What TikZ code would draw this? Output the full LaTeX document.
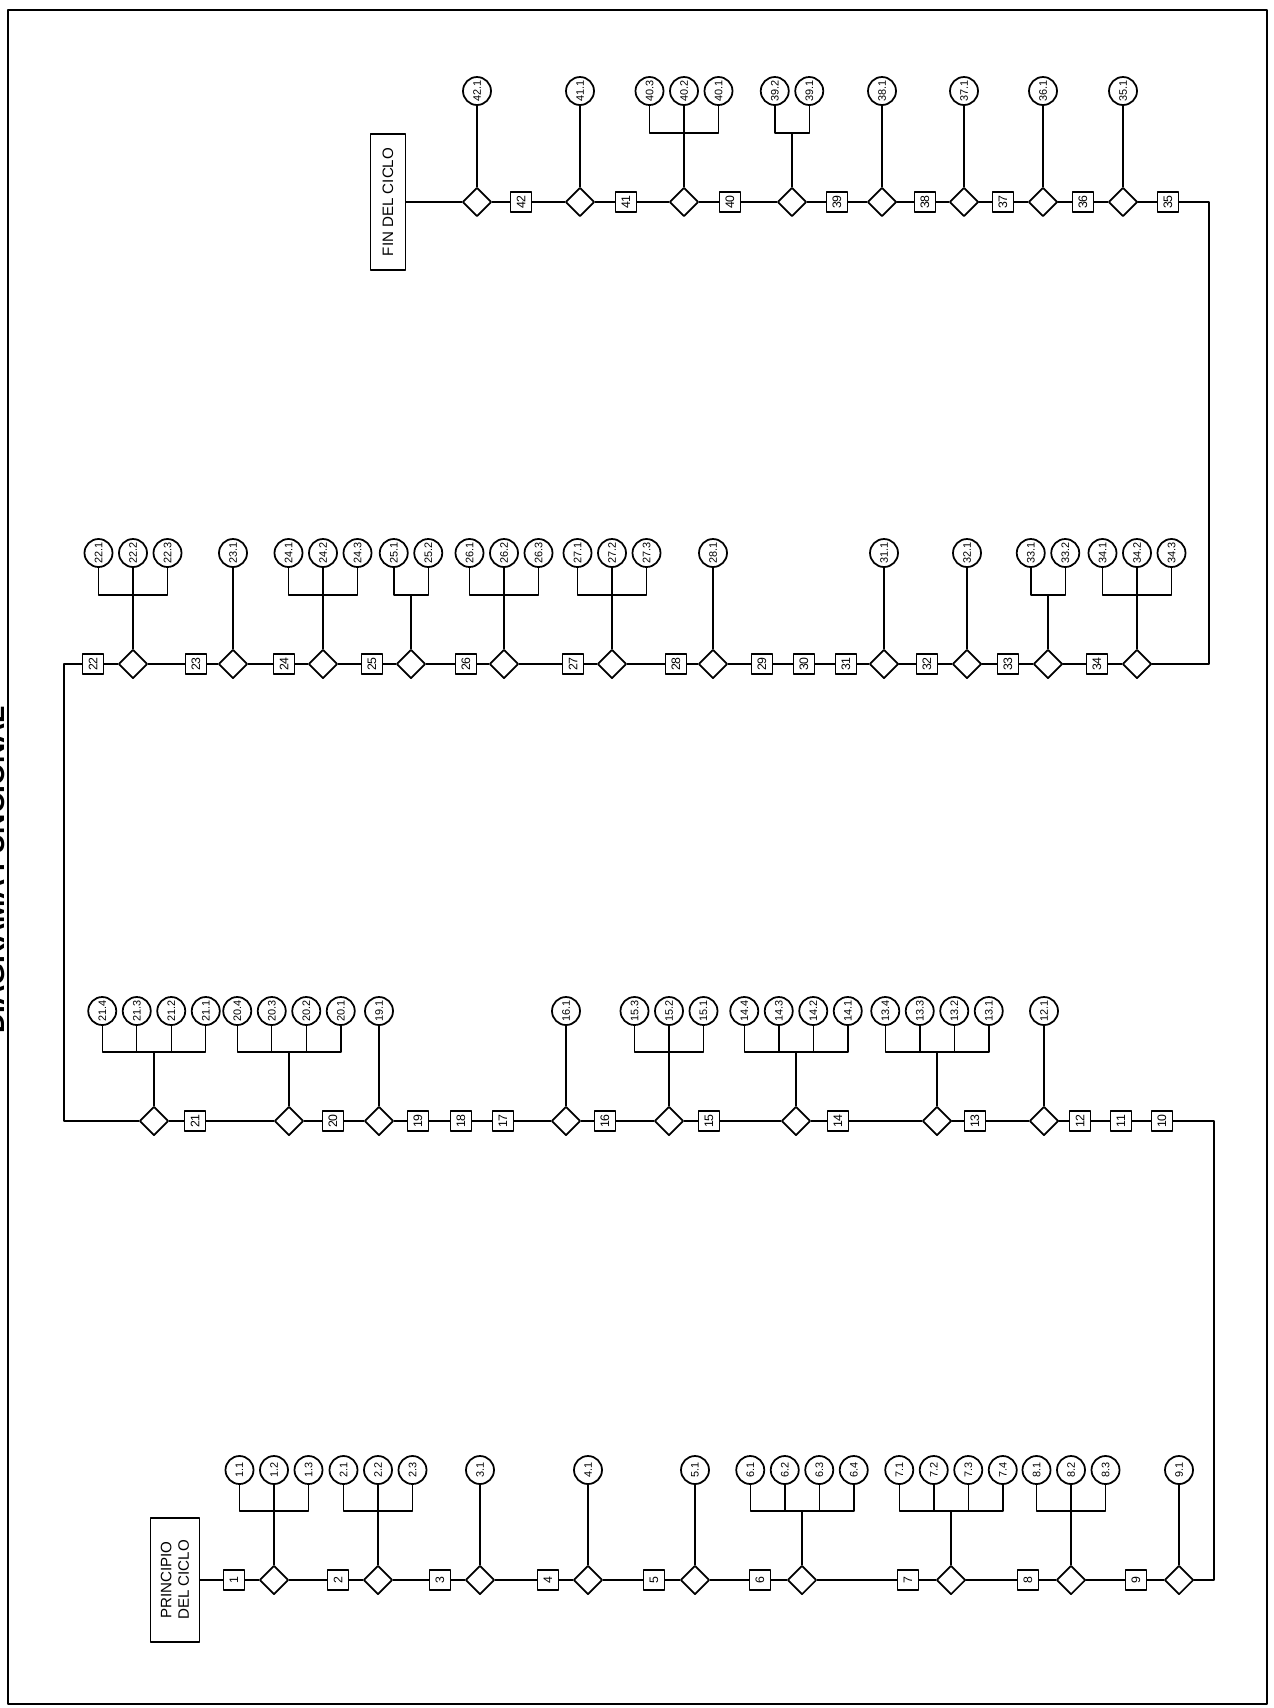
\documentclass[tikz,border=0pt]{standalone}
\usepackage{fontspec}
\setmainfont{Liberation Sans}
\usetikzlibrary{shapes.geometric}

\begin{document}
\begin{tikzpicture}[x=0.02cm, y=-0.02cm, line cap=round, line join=round]

% ------------------------------------------------
% Styles
% ------------------------------------------------
\tikzset{
    frame/.style={line width=1.6pt, black},
    link/.style={line width=0.85pt, black},
    num/.style={draw, line width=0.95pt, rotate=90, minimum width=0.40cm,
        minimum height=0.42cm, inner sep=0pt, font=\fontsize{7}{8}\selectfont},
    dec/.style={draw, diamond, line width=0.95pt, minimum width=0.58cm,
        minimum height=0.58cm, inner sep=0pt},
    sub/.style={draw, circle, line width=1pt, minimum size=0.56cm,
        inner sep=0pt, rotate=90, font=\fontsize{6.2}{7}\selectfont},
    term/.style={draw, line width=0.95pt, rotate=90, align=center,
        inner sep=0pt, font=\fontsize{8.6}{10}\selectfont},
    heading/.style={rotate=90, anchor=base, font=\bfseries\fontsize{16}{18}\selectfont},
}

\useasboundingbox (0,0) rectangle (1274,1708);

% ------------------------------------------------
% Frame and title
% ------------------------------------------------
\draw[frame] (8,10) rectangle (1267,1704);
\node[heading] (title) at (5,870) {DIAGRAMA FUNCIONAL};

% ------------------------------------------------
% Start / end of cycle
% ------------------------------------------------
\node[term, minimum width=2.48cm, minimum height=0.98cm] (start) at (175,1580)
    {PRINCIPIO\\DEL CICLO};
\node[term, minimum width=2.72cm, minimum height=0.70cm] (fin) at (388,202)
    {FIN DEL CICLO};

% ------------------------------------------------
% Row 1 (1 -- 9)
% ------------------------------------------------
\foreach \k/\x in {1/234,2/338,3/440,4/548,5/654,6/760,7/908,8/1028,9/1136}
    \node[num] (b\k) at (\x,1580) {\k};

\foreach \k/\x/\n in {1/274/3,2/378/3,3/480/1,4/588/1,5/695/1,6/802/4,7/951/4,8/1071/3,9/1179/1}{
    \node[dec] (d\k) at (\x,1580) {};
    \coordinate (j\k) at (\x,1511);
    \foreach \i in {1,...,\n}{
        \node[sub] (c\k-\i) at ({\x+(\i-(\n+1)/2)*34.5},1470) {\k.\i};
        \draw[link] (c\k-\i) -- (c\k-\i |- j\k) -- (j\k);
    }
    \draw[link] (d\k) -- (j\k);
}

% ------------------------------------------------
% Row 2 (10 -- 21), read right to left
% ------------------------------------------------
\foreach \k/\x in {10/1162,11/1121,12/1080,13/975,14/838,15/709,16/605,17/503,18/461,19/418,20/333,21/195}
    \node[num] (b\k) at (\x,1121) {\k};

\foreach \k/\x/\n in {12/1044/1,13/937/4,14/796/4,15/669/3,16/566/1,19/379/1,20/289/4,21/154/4}{
    \node[dec] (d\k) at (\x,1121) {};
    \coordinate (j\k) at (\x,1052);
    \foreach \i in {1,...,\n}{
        \node[sub] (c\k-\i) at ({\x-(\i-(\n+1)/2)*34.5},1011) {\k.\i};
        \draw[link] (c\k-\i) -- (c\k-\i |- j\k) -- (j\k);
    }
    \draw[link] (d\k) -- (j\k);
}

% ------------------------------------------------
% Row 3 (22 -- 34)
% ------------------------------------------------
\foreach \k/\x in {22/93,23/196,24/284,25/372,26/466,27/573,28/676,29/762,30/804,31/846,32/927,33/1008,34/1097}
    \node[num] (b\k) at (\x,664) {\k};

\foreach \k/\x/\n in {22/133/3,23/233/1,24/323/3,25/411/2,26/504/3,27/612/3,28/713/1,31/884/1,32/967/1,33/1048/2,34/1137/3}{
    \node[dec] (d\k) at (\x,664) {};
    \coordinate (j\k) at (\x,595);
    \foreach \i in {1,...,\n}{
        \node[sub] (c\k-\i) at ({\x+(\i-(\n+1)/2)*34.5},553) {\k.\i};
        \draw[link] (c\k-\i) -- (c\k-\i |- j\k) -- (j\k);
    }
    \draw[link] (d\k) -- (j\k);
}

% ------------------------------------------------
% Row 4 (35 -- 42), read right to left
% ------------------------------------------------
\foreach \k/\x in {35/1168,36/1083,37/1003,38/925,39/837,40/730,41/626,42/521}
    \node[num] (b\k) at (\x,202) {\k};

\foreach \k/\x/\n in {35/1123/1,36/1043/1,37/964/1,38/882/1,39/792/2,40/684/3,41/580/1,42/477/1}{
    \node[dec] (d\k) at (\x,202) {};
    \coordinate (j\k) at (\x,133);
    \foreach \i in {1,...,\n}{
        \node[sub] (c\k-\i) at ({\x-(\i-(\n+1)/2)*34.5},91) {\k.\i};
        \draw[link] (c\k-\i) -- (c\k-\i |- j\k) -- (j\k);
    }
    \draw[link] (d\k) -- (j\k);
}

% ------------------------------------------------
% Main flow line
% ------------------------------------------------
\coordinate (k1) at (1214,1580);
\coordinate (k2) at (1214,1121);
\coordinate (k3) at (64,1121);
\coordinate (k4) at (64,664);
\coordinate (k5) at (1209,664);
\coordinate (k6) at (1209,202);

\draw[link] (start) -- (b1) -- (d1) -- (b2) -- (d2) -- (b3) -- (d3) -- (b4) -- (d4)
    -- (b5) -- (d5) -- (b6) -- (d6) -- (b7) -- (d7) -- (b8) -- (d8) -- (b9) -- (d9)
    -- (k1) -- (k2) -- (b10) -- (b11) -- (b12) -- (d12) -- (b13) -- (d13) -- (b14) -- (d14)
    -- (b15) -- (d15) -- (b16) -- (d16) -- (b17) -- (b18) -- (b19) -- (d19) -- (b20) -- (d20)
    -- (b21) -- (d21) -- (k3) -- (k4) -- (b22) -- (d22) -- (b23) -- (d23) -- (b24) -- (d24)
    -- (b25) -- (d25) -- (b26) -- (d26) -- (b27) -- (d27) -- (b28) -- (d28) -- (b29) -- (b30)
    -- (b31) -- (d31) -- (b32) -- (d32) -- (b33) -- (d33) -- (b34) -- (d34) -- (k5) -- (k6)
    -- (b35) -- (d35) -- (b36) -- (d36) -- (b37) -- (d37) -- (b38) -- (d38) -- (b39) -- (d39)
    -- (b40) -- (d40) -- (b41) -- (d41) -- (b42) -- (d42) -- (fin);

\end{tikzpicture}
\end{document}
